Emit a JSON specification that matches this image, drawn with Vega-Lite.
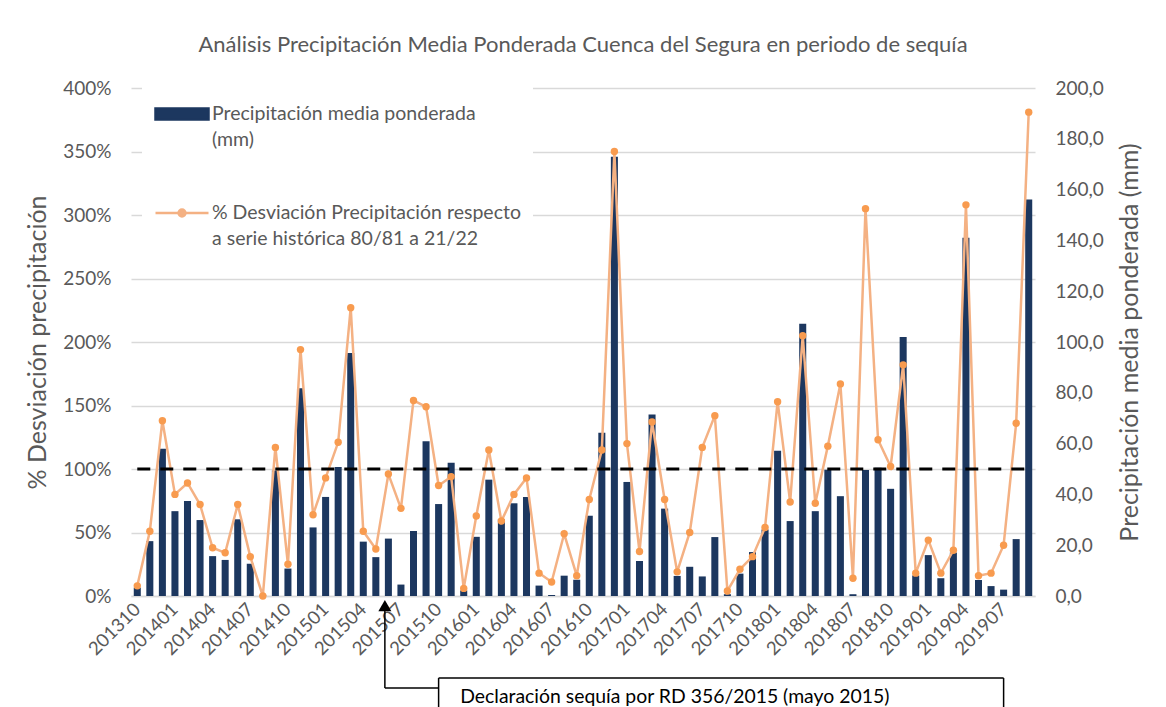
{
  "$schema": "https://vega.github.io/schema/vega-lite/v6.json",
  "width": 904,
  "height": 508,
  "autosize": {"type": "none"},
  "padding": {"left": 131, "top": 88, "right": 131, "bottom": 111},
  "background": "white",
  "config": {
    "view": {"stroke": null},
    "font": "Lato",
    "axis": {"labelFont": "Lato", "titleFont": "Lato", "titleFontWeight": "normal"}
  },
  "title": {
    "text": "Análisis Precipitación Media Ponderada Cuenca del Segura en periodo de sequía",
    "fontSize": 22,
    "font": "Lato",
    "fontWeight": "normal",
    "color": "#595959",
    "anchor": "middle",
    "offset": 17
  },
  "data": {
    "values": [
      {"mes": "201310", "precip": 3.3, "desv": 8},
      {"mes": "201311", "precip": 21.6, "desv": 51},
      {"mes": "201312", "precip": 58.0, "desv": 138},
      {"mes": "201401", "precip": 33.4, "desv": 80},
      {"mes": "201402", "precip": 37.4, "desv": 89},
      {"mes": "201403", "precip": 29.9, "desv": 72},
      {"mes": "201404", "precip": 15.7, "desv": 38},
      {"mes": "201405", "precip": 14.2, "desv": 34},
      {"mes": "201406", "precip": 30.2, "desv": 72},
      {"mes": "201407", "precip": 12.7, "desv": 31},
      {"mes": "201408", "precip": 0.2, "desv": 0},
      {"mes": "201409", "precip": 49.4, "desv": 117},
      {"mes": "201410", "precip": 10.8, "desv": 25},
      {"mes": "201411", "precip": 81.8, "desv": 194},
      {"mes": "201412", "precip": 27.0, "desv": 64},
      {"mes": "201501", "precip": 39.0, "desv": 93},
      {"mes": "201502", "precip": 50.8, "desv": 121},
      {"mes": "201503", "precip": 95.7, "desv": 227},
      {"mes": "201504", "precip": 21.4, "desv": 51},
      {"mes": "201505", "precip": 15.3, "desv": 37},
      {"mes": "201506", "precip": 22.6, "desv": 96},
      {"mes": "201507", "precip": 4.5, "desv": 69},
      {"mes": "201508", "precip": 25.6, "desv": 154},
      {"mes": "201509", "precip": 60.9, "desv": 149},
      {"mes": "201510", "precip": 36.2, "desv": 87},
      {"mes": "201511", "precip": 52.5, "desv": 94},
      {"mes": "201512", "precip": 2.2, "desv": 6},
      {"mes": "201601", "precip": 23.3, "desv": 63},
      {"mes": "201602", "precip": 45.8, "desv": 115},
      {"mes": "201603", "precip": 30.2, "desv": 59},
      {"mes": "201604", "precip": 36.5, "desv": 80},
      {"mes": "201605", "precip": 39.0, "desv": 93},
      {"mes": "201606", "precip": 4.1, "desv": 18},
      {"mes": "201607", "precip": 0.4, "desv": 11},
      {"mes": "201608", "precip": 8.0, "desv": 49},
      {"mes": "201609", "precip": 6.4, "desv": 16},
      {"mes": "201610", "precip": 31.6, "desv": 76},
      {"mes": "201611", "precip": 64.3, "desv": 115},
      {"mes": "201612", "precip": 172.9, "desv": 350},
      {"mes": "201701", "precip": 44.9, "desv": 120},
      {"mes": "201702", "precip": 13.8, "desv": 35},
      {"mes": "201703", "precip": 71.5, "desv": 137},
      {"mes": "201704", "precip": 34.4, "desv": 76},
      {"mes": "201705", "precip": 7.9, "desv": 19},
      {"mes": "201706", "precip": 11.5, "desv": 50},
      {"mes": "201707", "precip": 7.7, "desv": 117},
      {"mes": "201708", "precip": 23.2, "desv": 142},
      {"mes": "201709", "precip": 0.7, "desv": 4},
      {"mes": "201710", "precip": 8.8, "desv": 21},
      {"mes": "201711", "precip": 17.3, "desv": 31},
      {"mes": "201712", "precip": 26.2, "desv": 54},
      {"mes": "201801", "precip": 57.2, "desv": 153},
      {"mes": "201802", "precip": 29.5, "desv": 74},
      {"mes": "201803", "precip": 107.2, "desv": 205},
      {"mes": "201804", "precip": 33.4, "desv": 73},
      {"mes": "201805", "precip": 49.7, "desv": 118},
      {"mes": "201806", "precip": 39.3, "desv": 167},
      {"mes": "201807", "precip": 0.7, "desv": 14},
      {"mes": "201808", "precip": 49.6, "desv": 305},
      {"mes": "201809", "precip": 50.5, "desv": 123},
      {"mes": "201810", "precip": 42.2, "desv": 102},
      {"mes": "201811", "precip": 102.0, "desv": 182},
      {"mes": "201812", "precip": 8.1, "desv": 18},
      {"mes": "201901", "precip": 16.1, "desv": 44},
      {"mes": "201902", "precip": 7.0, "desv": 18},
      {"mes": "201903", "precip": 17.1, "desv": 36},
      {"mes": "201904", "precip": 141.0, "desv": 308},
      {"mes": "201905", "precip": 6.3, "desv": 16},
      {"mes": "201906", "precip": 3.9, "desv": 18},
      {"mes": "201907", "precip": 2.5, "desv": 40},
      {"mes": "201908", "precip": 22.4, "desv": 136},
      {"mes": "201909", "precip": 156.1, "desv": 381}
    ]
  },
  "encoding": {
    "x": {
      "field": "mes",
      "type": "ordinal",
      "scale": {"paddingInner": 0.44, "paddingOuter": 0.22},
      "axis": {
        "title": null,
        "values": ["201310","201401","201404","201407","201410","201501","201504","201507","201510","201601","201604","201607","201610","201701","201704","201707","201710","201801","201804","201807","201810","201901","201904","201907"],
        "labelAngle": -45,
        "labelAlign": "right",
        "labelBaseline": "middle",
        "labelFontSize": 18.5,
        "labelColor": "#595959",
        "labelPadding": 10,
        "ticks": false,
        "domain": true,
        "domainColor": "#d9d9d9",
        "domainWidth": 1.5,
        "grid": false
      }
    }
  },
  "layer": [
    {
      "mark": {"type": "bar", "color": "#1c375f"},
      "encoding": {
        "y": {
          "field": "precip",
          "type": "quantitative",
          "scale": {"domain": [0, 200], "nice": false},
          "axis": {
            "orient": "right",
            "title": "Precipitación media ponderada (mm)",
            "titleAngle": -90,
            "titleBaseline": "top",
            "titleFontSize": 25,
            "titleColor": "#595959",
            "titlePadding": 14,
            "values": [0, 20, 40, 60, 80, 100, 120, 140, 160, 180, 200],
            "labelExpr": "replace(format(datum.value, '.1f'), '.', ',')",
            "labelFontSize": 19,
            "labelColor": "#595959",
            "labelPadding": 20,
            "grid": false,
            "domain": false,
            "ticks": false
          }
        },
        "color": {
          "datum": "Precipitación media ponderada (mm)",
          "scale": {
            "domain": ["Precipitación media ponderada (mm)", "% Desviación Precipitación respecto a serie histórica 80/81 a 21/22"],
            "range": ["#1c375f", "#f4b183"]
          },
          "legend": {
            "title": null,
            "orient": "none",
            "legendX": 11,
            "legendY": -14,
            "padding": 12,
            "fillColor": "white",
            "labelFontSize": 19.5,
            "labelColor": "#595959",
            "labelFont": "Lato",
            "labelLimit": 600,
            "labelOffset": 2,
            "rowPadding": 35,
            "symbolSize": 2809,
            "labelExpr": "datum.label == 'Precipitación media ponderada (mm)' ? ['Precipitación media ponderada', '(mm)'] : ['% Desviación Precipitación respecto', 'a serie histórica 80/81 a 21/22']",
            "encode": {
              "symbols": {
                "update": {
                  "shape": {"signal": "datum.value == 'Precipitación media ponderada (mm)' ? 'M-1,-0.21H1V0.21H-1Z' : 'M-1,0H1M0.13,0A0.13,0.13,0,1,1,-0.13,0A0.13,0.13,0,1,1,0.13,0'"},
                  "fill": {"signal": "datum.value == 'Precipitación media ponderada (mm)' ? '#1c375f' : '#f89b4f'"},
                  "stroke": {"signal": "datum.value == 'Precipitación media ponderada (mm)' ? 'transparent' : '#f4b183'"},
                  "strokeWidth": {"value": 2.5},
                  "size": {"value": 2809},
                  "opacity": {"value": 1}
                }
              },
              "labels": {
                "update": {
                  "lineHeight": {"value": 26}
                }
              }
            }
          }
        }
      }
    },
    {
      "layer": [
        {
          "mark": {"type": "line", "color": "#f4b183", "strokeWidth": 2.5},
          "encoding": {
            "y": {
              "field": "desv",
              "type": "quantitative",
              "scale": {"domain": [0, 400], "nice": false},
              "axis": {
                "orient": "left",
                "title": "% Desviación precipitación",
                "titleFontSize": 25,
                "titleColor": "#595959",
                "titlePadding": 12,
                "values": [0, 50, 100, 150, 200, 250, 300, 350, 400],
                "labelExpr": "datum.value + '%'",
                "labelFontSize": 19,
                "labelColor": "#595959",
                "labelPadding": 20,
                "grid": true,
                "gridColor": "#d9d9d9",
                "gridWidth": 1.5,
                "domain": false,
                "ticks": false
              }
            },
            "color": {"datum": "% Desviación Precipitación respecto a serie histórica 80/81 a 21/22"}
          }
        },
        {
          "data": {"values": [{}]},
          "mark": {"type": "rule", "color": "black", "strokeWidth": 3, "strokeDash": [13, 10]},
          "encoding": {
            "x": {"datum": "201310"},
            "x2": {"datum": "201909"},
            "y": {"datum": 100, "type": "quantitative"}
          }
        },
        {
          "mark": {"type": "point", "filled": true, "color": "#f89b4f", "size": 55, "opacity": 1},
          "encoding": {
            "y": {"field": "desv", "type": "quantitative"}
          }
        },
        {
          "data": {"values": [{}]},
          "mark": {"type": "rule", "color": "black", "strokeWidth": 1.5},
          "encoding": {
            "x": {"datum": "201506", "bandPosition": 0},
            "y": {"datum": -72.4, "type": "quantitative"},
            "y2": {"datum": -9}
          }
        },
        {
          "data": {"values": [{}]},
          "mark": {"type": "rule", "color": "black", "strokeWidth": 1.5},
          "encoding": {
            "x": {"datum": "201506", "bandPosition": 0},
            "x2": {"datum": "201510"},
            "y": {"datum": -72.4, "type": "quantitative"}
          }
        },
        {
          "data": {"values": [{}]},
          "mark": {"type": "point", "shape": "triangle-up", "filled": true, "color": "black", "size": 170, "opacity": 1},
          "encoding": {
            "x": {"datum": "201506", "bandPosition": 0},
            "y": {"datum": -7.5, "type": "quantitative"}
          }
        },
        {
          "data": {"values": [{}]},
          "mark": {"type": "rule", "color": "black", "strokeWidth": 1.5},
          "encoding": {
            "x": {"datum": "201510"},
            "x2": {"datum": "201907"},
            "y": {"datum": -64.6, "type": "quantitative"}
          }
        },
        {
          "data": {"values": [{}]},
          "mark": {"type": "rule", "color": "black", "strokeWidth": 1.5},
          "encoding": {
            "x": {"datum": "201510"},
            "y": {"datum": -64.6, "type": "quantitative"},
            "y2": {"datum": -120}
          }
        },
        {
          "data": {"values": [{}]},
          "mark": {"type": "rule", "color": "black", "strokeWidth": 1.5},
          "encoding": {
            "x": {"datum": "201907"},
            "y": {"datum": -64.6, "type": "quantitative"},
            "y2": {"datum": -120}
          }
        },
        {
          "data": {"values": [{}]},
          "mark": {"type": "text", "align": "left", "baseline": "alphabetic", "fontSize": 19.4, "font": "Lato", "color": "black"},
          "encoding": {
            "x": {"datum": "201512", "bandPosition": 0},
            "y": {"datum": -84.3, "type": "quantitative"},
            "text": {"value": "Declaración sequía por RD 356/2015 (mayo 2015)"}
          }
        }
      ]
    }
  ],
  "resolve": {"scale": {"y": "independent"}}
}
